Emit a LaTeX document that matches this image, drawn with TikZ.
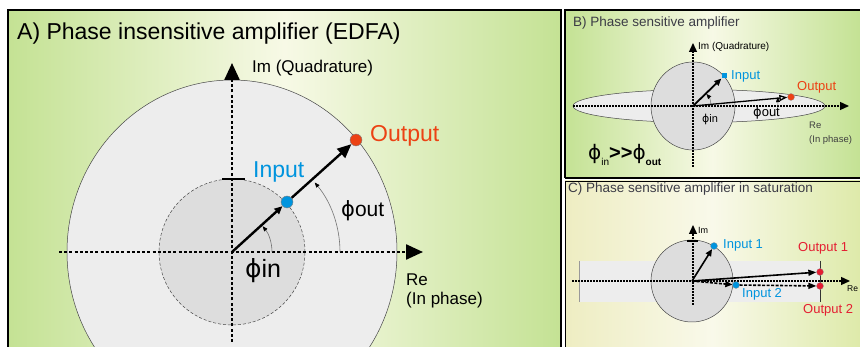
\documentclass[tikz,border=0pt]{standalone}
\usepackage{fontspec}
\setmainfont{Liberation Sans}
\newfontfamily\phifont{DejaVu Sans}
\newcommand{\phisym}{{\phifont ϕ}}
\usetikzlibrary{arrows.meta,positioning,calc}
\definecolor{pagreen}{RGB}{196,226,148}
\definecolor{palight}{RGB}{247,249,230}
\definecolor{pcyellow}{RGB}{238,237,194}
\definecolor{pcgreen}{RGB}{222,234,170}
\definecolor{pclight}{RGB}{249,249,234}
\definecolor{inblue}{RGB}{0,148,222}
\definecolor{outred}{RGB}{236,66,20}
\definecolor{satred}{RGB}{228,30,50}
\definecolor{rimgray}{RGB}{70,70,70}
\definecolor{outerfill}{RGB}{237,237,237}
\definecolor{innerfill}{RGB}{221,221,221}
\definecolor{titlegray}{RGB}{60,60,70}
\tikzset{
  panelbg/.style={left color=#1, right color=#1, middle color=palight},
  rim/.style={draw=rimgray, line width=0.5pt, fill=#1},
  bigaxis/.style={line width=2.4pt, dash pattern=on 3pt off 2.2pt,
                  -{Triangle[length=17pt,width=15pt]}},
  smallaxis/.style={line width=1.3pt, dash pattern=on 1.6pt off 1.4pt,
                    -{Triangle[length=9pt,width=8pt]}},
  vec/.style={line width=#1, black},
  angarc/.style={draw=black!55, line width=0.6pt,
                 -{Triangle[length=5pt,width=4pt,black]}},
  dotnode/.style={circle, fill=#1, draw=black!50, line width=0.4pt,
                  inner sep=0pt, minimum size=12pt},
  smalldot/.style={circle, fill=#1, draw=black!40, line width=0.3pt,
                   inner sep=0pt, minimum size=7pt},
  lbl/.style={inner sep=0pt, anchor=base west, font=\fontsize{#1}{#1}\selectfont},
  ptitle/.style={inner sep=0pt, anchor=base west, text=titlegray,
                 font=\fontsize{13.5}{13.5}\selectfont},
}

\begin{document}
\begin{tikzpicture}[x=1pt, y=-1pt]
\useasboundingbox (0,0) rectangle (860,347);

% Panel backgrounds
\fill[panelbg=pagreen] (8,10) rectangle (561,347);
\fill[panelbg=pagreen] (565,10) rectangle (860,178);
\fill[left color=pcyellow, right color=pcgreen, middle color=pclight] (565,181) rectangle (860,347);

% A) phase insensitive
\begin{scope}
\clip (8,10) rectangle (561,347);
\coordinate (oA) at (232,252);
\draw[rim=outerfill] (oA) circle[x radius=165pt, y radius=172pt];
\draw[rim=innerfill, densely dashed] (oA) circle[radius=73pt];
\draw[line width=1.6pt] (222,179) -- (245,179);
\coordinate (reA) at (423,252);
\coordinate (imA) at (232,63);
\draw[bigaxis] (59,252) -- (reA);
\draw[bigaxis] (232,342) -- (imA);
\draw[angarc] ($(oA)+(40,0)$) arc[start angle=0, end angle=40, radius=40pt];
\draw[angarc] ($(oA)+(108,0)$) arc[start angle=0, end angle=40, radius=108pt];
\node[dotnode=inblue] (inA) at (287,202) {};
\node[dotnode=outred] (outA) at (356,140) {};
\draw[vec=2.4pt, -{Triangle[length=8pt,width=7pt]}] (oA) -- (inA);
\draw[vec=2.4pt, -{Triangle[length=14pt,width=12pt]}] (inA) -- (outA);
\end{scope}
\node[lbl=23] (titleA) at (17,40) {A) Phase insensitive amplifier (EDFA)};
\node[lbl=17] (imlabA) at (252,73) {Im (Quadrature)};
\node[lbl=23, text=outred] (outlabA) at (370,142) {Output};
\node[lbl=23, text=inblue] (inlabA) at (253,178) {Input};
\node[lbl=21] (phioutA) at (341,217) {\phisym out};
\node[lbl=25] (phiinA) at (245,278) {\phisym in};
\node[lbl=17] (relabA) at (406,286) {Re};
\node[lbl=17] (inphA) at (406,305) {(In phase)};

% B) phase sensitive
\coordinate (oB) at (693,106);
\draw[rim=outerfill] (699,106) ellipse[x radius=126pt, y radius=16.5pt];
\draw[rim=innerfill] (oB) circle[x radius=42pt, y radius=44pt];
\draw[smallaxis] (573,106) -- (849,106) coordinate (reB);
\draw[smallaxis] (693,167) -- (693,43) coordinate (imB);
\draw[angarc, line width=0.5pt] ($(oB)+(18,0)$) arc[start angle=0, end angle=42, radius=18pt];
\draw[angarc, line width=0.5pt] ($(oB)+(85,0)$) arc[start angle=0, end angle=6, radius=85pt];
\node[fill=inblue, inner sep=0pt, minimum size=5pt] (inB) at (724,76) {};
\node[smalldot=outred] (outB) at (791,97) {};
\draw[vec=1.8pt, -{Triangle[length=7pt,width=6pt]}] (oB) -- (inB);
\draw[vec=1.3pt, -{Triangle[open,length=8pt,width=6pt]}] (oB) -- (outB);
\node[ptitle] (titleB) at (573,27) {B) Phase sensitive amplifier};
\node[lbl=10] (imlabB) at (698,50) {Im (Quadrature)};
\node[lbl=13, text=inblue] (inlabB) at (731,80) {Input};
\node[lbl=13, text=outred] (outlabB) at (797,91) {Output};
\node[lbl=11] (phiinB) at (702,123) {\phisym in};
\node[lbl=13] (phioutB) at (753,117) {\phisym out};
\node[lbl=9.5, text=black!75] (relabB) at (809,129) {Re};
\node[lbl=9.5, text=black!75] (inphB) at (809,143) {(In phase)};
\node[lbl=20] (ineqB) at (588,160)
  {\phisym\raisebox{-6pt}{\fontsize{10}{10}\selectfont in}\textbf{>{}>}\phisym\raisebox{-6pt}{\fontsize{10}{10}\bfseries\selectfont out}};

% C) phase sensitive in saturation
\coordinate (oC) at (692,281);
\fill[outerfill] (579,261) rectangle (820,302);
\draw[black!40, line width=0.6pt] (579,261) -- (579,302);
\draw[black!80, line width=0.8pt] (820,261) -- (820,302);
\draw[rim=innerfill] (oC) circle[radius=41pt];
\draw[line width=1.3pt] (687,241) -- (698,241);
\draw[smallaxis] (572,281) -- (850,281) coordinate (reC);
\draw[smallaxis] (693,305) -- (693,225) coordinate (imC);
\node[smalldot=inblue] (in1C) at (714,246) {};
\node[smalldot=satred] (out1C) at (820,272) {};
\node[smalldot=inblue] (in2C) at (736,285) {};
\node[smalldot=satred] (out2C) at (820,286) {};
\draw[vec=1.6pt, -{Triangle[length=7pt,width=6pt]}] (oC) -- (in1C);
\draw[vec=1.6pt, -{Triangle[length=8pt,width=6pt]}] (oC) -- (out1C);
\draw[vec=1.6pt, dash pattern=on 3pt off 1.5pt, -{Triangle[length=7pt,width=6pt]}] (oC) -- (in2C);
\draw[vec=1.6pt, dash pattern=on 3pt off 1.5pt, -{Triangle[length=8pt,width=6pt]}] (in2C) -- (out2C);
\node[ptitle] (titleC) at (568,193) {C) Phase sensitive amplifier in saturation};
\node[lbl=9] (imlabC) at (698,234) {Im};
\node[lbl=13, text=inblue] (in1labC) at (723,249) {Input 1};
\node[lbl=13, text=satred] (out1labC) at (798,252) {Output 1};
\node[lbl=13, text=inblue] (in2labC) at (742,298) {Input 2};
\node[lbl=13, text=satred] (out2labC) at (803,314) {Output 2};
\node[lbl=8.5] (relabC) at (847,292) {Re};

% Frames
\draw[line width=1.3pt] (8,347) -- (8,10) -- (561,10) -- (561,347);
\draw[line width=1.3pt] (565,178) -- (565,10) -- (860,10);
\draw[line width=1.6pt] (565,178) -- (860,178);
\draw[line width=0.8pt] (565,347) -- (565,181) -- (860,181);
\end{tikzpicture}
\end{document}
